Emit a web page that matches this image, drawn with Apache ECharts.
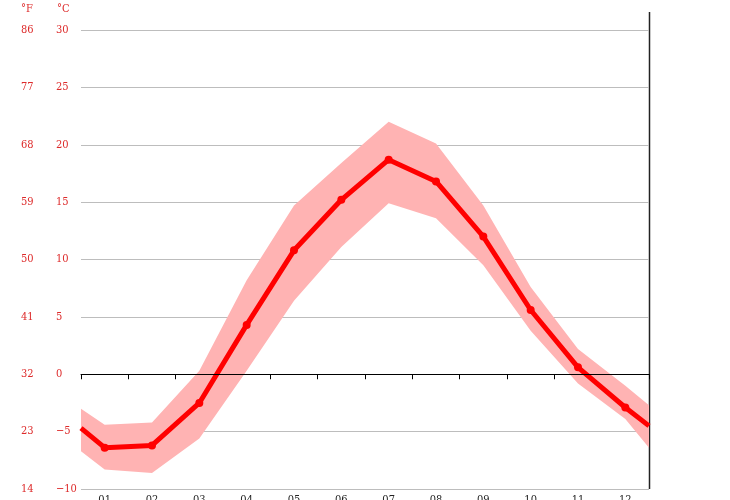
<!DOCTYPE html>
<html>
<head>
<meta charset="utf-8">
<script src="https://cdn.jsdelivr.net/npm/echarts@6/dist/echarts.min.js"></script>
<style>
	html, body { margin: 0; padding: 0; background: #fff; }
	#chart { width: 730px; height: 500px; }
</style>
</head>
<body>
<div id="chart"></div>
<script>
// monthly climate values, °C
const months = ['01', '02', '03', '04', '05', '06', '07', '08', '09', '10', '11', '12'];
const avgTemp = [-6.4, -6.2, -2.5, 4.3, 10.8, 15.2, 18.7, 16.8, 12.0, 5.6, 0.6, -2.9];
const maxTemp = [-4.4, -4.2, 0.3, 8.2, 14.7, 18.4, 22.0, 20.1, 14.7, 7.6, 2.2, -1.0];
const minTemp = [-8.3, -8.6, -5.6, 0.3, 6.4, 11.1, 14.9, 13.6, 9.5, 3.8, -0.8, -3.9];
// values where the curves meet the left and right edges
const edgeAvg = [-4.7, -4.5];
const edgeMax = [-3.0, -2.7];
const edgeMin = [-6.7, -6.4];
const celsiusTicks = [-10, -5, 0, 5, 10, 15, 20, 25, 30];
const fahrenheitTicks = [14, 23, 32, 41, 50, 59, 68, 77, 86];

const labelFont = "'DejaVu Serif Condensed', 'DejaVu Serif', serif";
const red = '#dd2a2a';

// x runs 0..12 over the plot, month i sits at i + 0.5
function withEdges(values, edges) {
	const out = [[0, edges[0]]];
	values.forEach((v, i) => out.push([i + 0.5, v]));
	out.push([months.length, edges[1]]);
	return out;
}

const lowData = withEdges(minTemp, edgeMin);
const highData = withEdges(maxTemp, edgeMax);
const avgData = withEdges(avgTemp, edgeAvg);

const chart = echarts.init(document.getElementById('chart'));

const option = {
	animation: false,
	grid: { left: 81, right: 81, top: 30, bottom: 11, outerBoundsMode: 'none', containLabel: false },
	xAxis: [
		{
			type: 'category',
			data: months,
			boundaryGap: true,
			axisLine: { lineStyle: { color: '#000', width: 1 } },
			axisTick: { show: true, length: 5, lineStyle: { color: '#000' } },
			axisLabel: { color: '#222', fontFamily: labelFont, fontSize: 11, margin: 6 },
			splitLine: { show: false },
		},
		{
			type: 'value',
			min: 0,
			max: months.length,
			show: false,
		},
	],
	yAxis: [
		{
			type: 'value',
			min: -10,
			max: 30,
			interval: 5,
			axisLine: { show: false },
			axisTick: { show: false },
			axisLabel: {
				color: red,
				fontFamily: labelFont,
				fontSize: 11,
				align: 'left',
				margin: 25,
				formatter: (v) => String(v).replace('-', '−'),
			},
			splitLine: { lineStyle: { color: '#bdbdbd', width: 1 } },
		},
		{
			type: 'value',
			position: 'left',
			min: -10,
			max: 30,
			interval: 5,
			axisLine: { show: false },
			axisTick: { show: false },
			axisLabel: {
				color: red,
				fontFamily: labelFont,
				fontSize: 11,
				align: 'left',
				margin: 60,
				formatter: (v) => String(fahrenheitTicks[celsiusTicks.indexOf(v)]),
			},
			splitLine: { show: false },
		},
	],
	graphic: [
		{
			type: 'text',
			left: 21,
			top: 4,
			style: { text: '°F', fill: red, font: '11px ' + labelFont },
		},
		{
			type: 'text',
			left: 57,
			top: 4,
			style: { text: '°C', fill: red, font: '11px ' + labelFont },
		},
		{
			type: 'line',
			shape: { x1: 649.5, y1: 12, x2: 649.5, y2: 489 },
			style: { stroke: '#222', lineWidth: 1.5 },
		},
	],
	series: [
		{
			// min..max band as one polygon
			name: 'range',
			type: 'custom',
			xAxisIndex: 1,
			data: highData,
			encode: { x: 0, y: 1 },
			silent: true,
			z: 1,
			renderItem: (params, api) => {
				if (params.dataIndex !== 0) return null;
				const top = highData.map((p) => api.coord(p));
				const bottom = lowData.slice().reverse().map((p) => api.coord(p));
				return {
					type: 'polygon',
					shape: { points: top.concat(bottom) },
					style: { fill: '#ffb3b3' },
				};
			},
		},
		{
			name: 'avg',
			type: 'line',
			xAxisIndex: 1,
			data: avgData,
			symbol: 'circle',
			symbolSize: (val, params) =>
				params.dataIndex === 0 || params.dataIndex === avgData.length - 1 ? 0 : 8,
			lineStyle: { color: '#ff0000', width: 5 },
			itemStyle: { color: '#ff0000' },
			z: 4,
			markLine: {
				silent: true,
				symbol: 'none',
				z: 10,
				label: { show: false },
				lineStyle: { color: '#000', type: 'solid', width: 1 },
				data: [{ yAxis: 0 }],
			},
		},
	],
};

chart.setOption(option);
</script>
</body>
</html>
